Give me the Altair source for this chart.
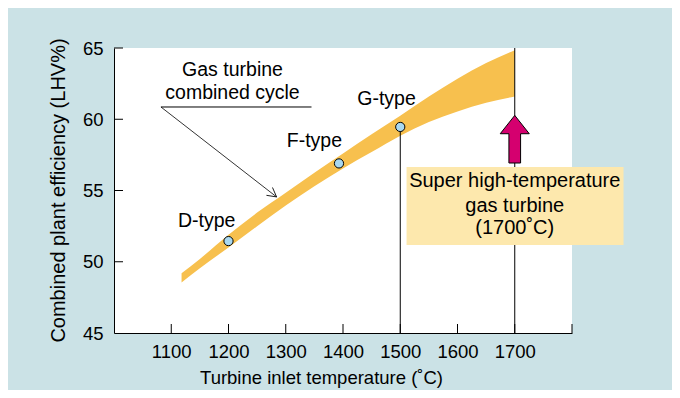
import altair as alt
import pandas as pd

# ---- data ----
band_temp  = [1118, 1150, 1200, 1250, 1300, 1350, 1400, 1450, 1500, 1550, 1600, 1650, 1700]
band_upper = [49.2, 50.2, 51.9, 53.45, 54.85, 56.25, 57.6, 58.95, 60.25, 61.6, 62.85, 63.95, 64.85]
band_lower = [48.55, 49.55, 51.0, 52.5, 53.95, 55.3, 56.55, 57.7, 58.85, 59.8, 60.55, 61.15, 61.6]

type_names = ["D-type", "F-type", "G-type"]
type_temp  = [1200, 1393, 1500]
type_eff   = [51.45, 56.9, 59.46]
label_temp = [1162, 1350, 1476]
label_eff  = [52.85, 58.45, 61.4]

gt_lines = ["Gas turbine", "combined cycle"]
gt_temp  = [1207, 1207]
gt_eff   = [63.45, 61.85]
underline_temp = [1082, 1345]
underline_eff  = 60.86
pointer_tip = [1284, 54.55]

box_temp = [1511, 1890]
box_eff  = [51.18, 56.65]
box_lines = ["Super high-temperature", "gas turbine", "(1700˚C)"]
box_line_eff = [55.64, 53.88, 52.37]
box_center_temp = 1700

vline_temp = [1500, 1700]
vline_top  = [59.46, 65]
vline_bot  = [45, 45]

arrow_temp, arrow_eff = 1700, 58.6

x_ticks = [1100, 1200, 1300, 1400, 1500, 1600, 1700]
x_inner_ticks = [1100, 1200, 1300, 1400, 1500, 1600, 1700, 1800]
y_ticks = [45, 50, 55, 60, 65]
y_inner_ticks = [50, 55, 60, 65]

FONT = "Liberation Sans"
W, H = 458, 285

xs = alt.Scale(domain=[1000, 1800], nice=False, zero=False)
ys = alt.Scale(domain=[45, 65], nice=False, zero=False)

band_df = pd.DataFrame({"t": band_temp, "hi": band_upper, "lo": band_lower})
band = alt.Chart(band_df).mark_area(color="#f7c04e", opacity=1, interpolate="monotone").encode(
    x=alt.X("t:Q", scale=xs, axis=alt.Axis(
        values=x_ticks, format="d", title="Turbine inlet temperature (˚C)", grid=False,
        ticks=False, tickSize=0, labelPadding=9, labelFontSize=18.5, labelFont=FONT,
        labelColor="black", domainColor="black", titleFont=FONT, titleFontSize=18.5,
        titleFontWeight="normal", titleColor="black", titleX=207, titleY=44,
        titleBaseline="middle", titleAlign="center")),
    y=alt.Y("hi:Q", scale=ys, axis=alt.Axis(
        values=y_ticks, title="Combined plant efficiency (LHV%)", grid=False,
        ticks=False, tickSize=0, labelPadding=11, labelFontSize=18.5, labelFont=FONT,
        labelColor="black", domainColor="black", titleFont=FONT, titleFontSize=20,
        titleFontWeight="normal", titleColor="black", titleX=-56, titleY=142,
        titleBaseline="middle", titleAlign="center")),
    y2="lo:Q",
)

xt_df = pd.DataFrame({"t": x_inner_ticks})
xtick = alt.Chart(xt_df).mark_rule(color="black", strokeWidth=1).encode(
    x=alt.X("t:Q", scale=xs), y=alt.value(H), y2=alt.value(H - 9))
yt_df = pd.DataFrame({"e": y_inner_ticks})
ytick = alt.Chart(yt_df).mark_rule(color="black", strokeWidth=1).encode(
    y=alt.Y("e:Q", scale=ys), x=alt.value(0), x2=alt.value(9))

vl_df = pd.DataFrame({"t": vline_temp, "a": vline_top, "b": vline_bot})
vlines = alt.Chart(vl_df).mark_rule(color="black", strokeWidth=1).encode(
    x=alt.X("t:Q", scale=xs), y=alt.Y("a:Q", scale=ys), y2="b:Q")

box_df = pd.DataFrame({"x1": [box_temp[0]], "x2": [box_temp[1]], "y1": [box_eff[0]], "y2": [box_eff[1]]})
box = alt.Chart(box_df).mark_rect(color="#fde8ad").encode(
    x=alt.X("x1:Q", scale=xs), x2="x2:Q", y=alt.Y("y1:Q", scale=ys), y2="y2:Q")

bt_df = pd.DataFrame({"txt": box_lines, "e": box_line_eff, "t": [box_center_temp] * 3})
box_text = alt.Chart(bt_df).mark_text(font=FONT, fontSize=20, color="black",
                                      align="center", baseline="middle").encode(
    x=alt.X("t:Q", scale=xs), y=alt.Y("e:Q", scale=ys), text="txt:N")

arrow_df = pd.DataFrame({"t": [arrow_temp], "e": [arrow_eff]})
arrow = alt.Chart(arrow_df).mark_point(
    shape="M0,-1L0.61,-0.23L0.245,-0.23L0.245,1L-0.245,1L-0.245,-0.23L-0.61,-0.23Z",
    size=2266, filled=True, fill="#d5006f", stroke="black", strokeWidth=1, opacity=1,
).encode(x=alt.X("t:Q", scale=xs), y=alt.Y("e:Q", scale=ys))

ul_df = pd.DataFrame({"a": [underline_temp[0]], "b": [underline_temp[1]], "e": [underline_eff]})
underline = alt.Chart(ul_df).mark_rule(color="black", strokeWidth=1).encode(
    x=alt.X("a:Q", scale=xs), x2="b:Q", y=alt.Y("e:Q", scale=ys))

ptr_df = pd.DataFrame({"a": [underline_temp[0]], "e1": [underline_eff],
                       "b": [pointer_tip[0]], "e2": [pointer_tip[1]]})
pointer = alt.Chart(ptr_df).mark_rule(color="black", strokeWidth=0.8).encode(
    x=alt.X("a:Q", scale=xs), x2="b:Q", y=alt.Y("e1:Q", scale=ys), y2="e2:Q")
head_df = pd.DataFrame({"t": [pointer_tip[0]], "e": [pointer_tip[1]]})
head = alt.Chart(head_df).mark_point(
    shape="M-1,-0.55L0,0L-1,0.55", size=324, filled=False, stroke="black",
    strokeWidth=0.8, angle=37.7, opacity=1,
).encode(x=alt.X("t:Q", scale=xs), y=alt.Y("e:Q", scale=ys))

mk_df = pd.DataFrame({"t": type_temp, "e": type_eff})
markers = alt.Chart(mk_df).mark_point(
    shape="circle", size=85, filled=True, fill="#a9d8f0", stroke="black",
    strokeWidth=1, opacity=1,
).encode(x=alt.X("t:Q", scale=xs), y=alt.Y("e:Q", scale=ys))

lab_df = pd.DataFrame({"txt": type_names, "t": label_temp, "e": label_eff})
labels = alt.Chart(lab_df).mark_text(font=FONT, fontSize=19.5, color="black",
                                     align="center", baseline="middle").encode(
    x=alt.X("t:Q", scale=xs), y=alt.Y("e:Q", scale=ys), text="txt:N")

gt_df = pd.DataFrame({"txt": gt_lines, "t": gt_temp, "e": gt_eff})
gt_text = alt.Chart(gt_df).mark_text(font=FONT, fontSize=19.5, color="black",
                                     align="center", baseline="middle").encode(
    x=alt.X("t:Q", scale=xs), y=alt.Y("e:Q", scale=ys), text="txt:N")

chart = alt.layer(
    band, xtick, ytick, vlines, box, box_text, arrow, underline, pointer, head,
    markers, labels, gt_text,
).properties(
    width=W, height=H,
    autosize=alt.AutoSizeParams(type="none"),
    padding={"left": 106, "top": 40, "right": 100, "bottom": 57},
    background="#cbe2e6",
).configure_view(fill="white", stroke=None)

chart.save("out.html", embed_options={"renderer": "svg", "actions": False})
